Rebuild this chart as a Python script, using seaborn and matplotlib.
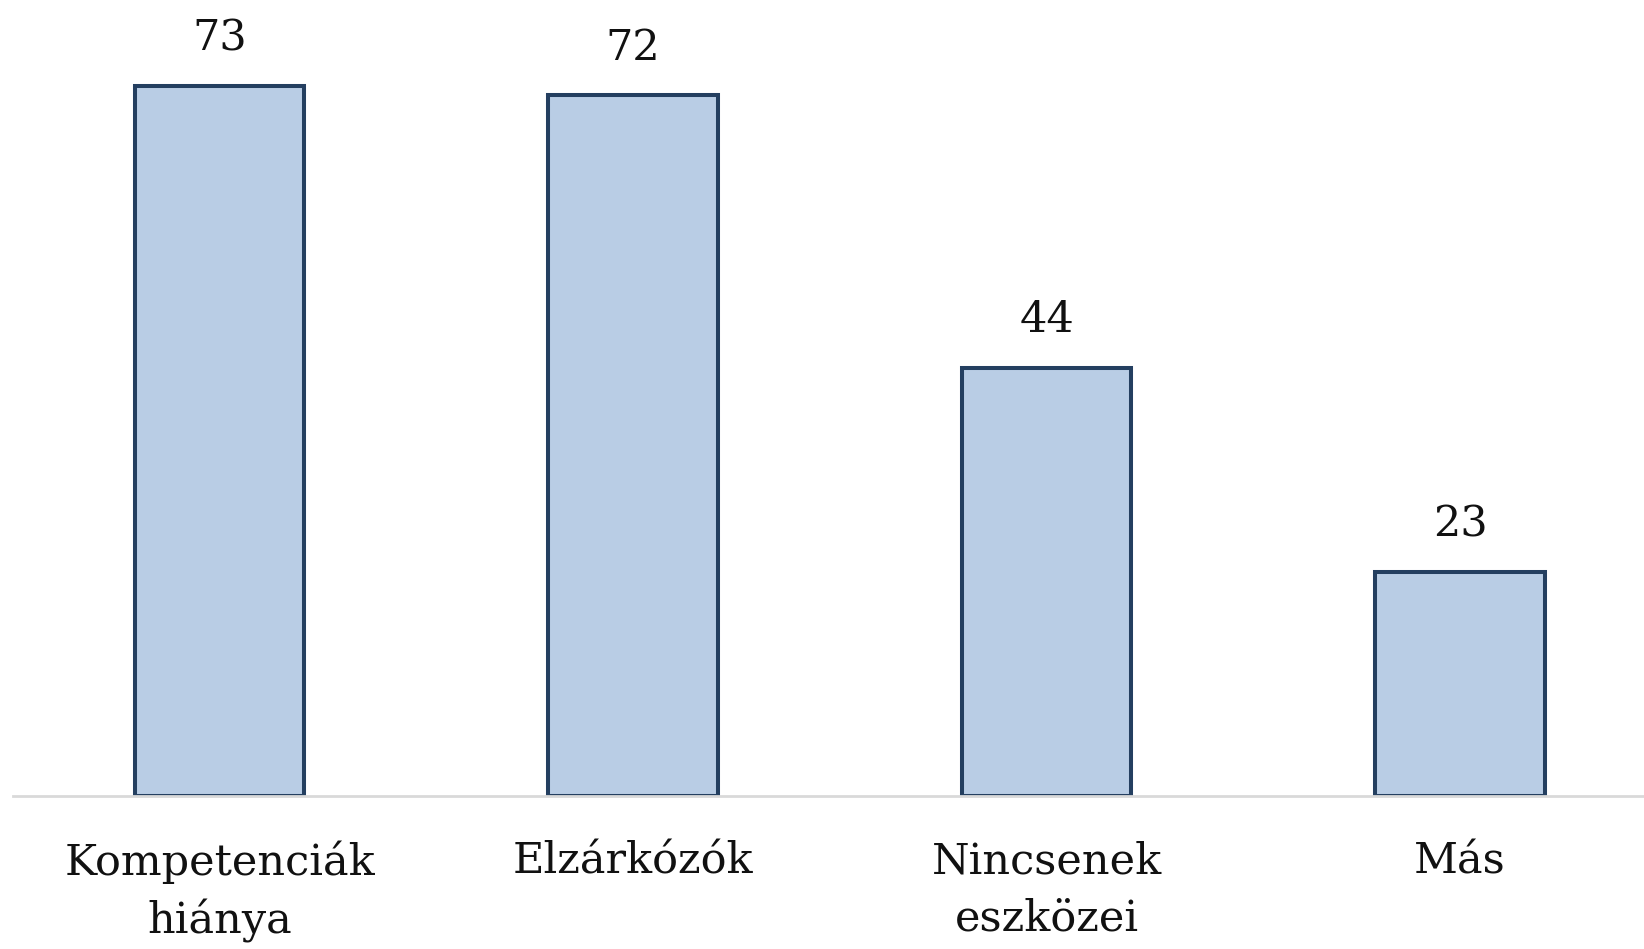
import seaborn as sns
import matplotlib.pyplot as plt
import pandas as pd

categories = ["Kompetenciák\nhiánya", "Elzárkózók", "Nincsenek\neszközei", "Más"]
values = [73, 72, 44, 23]

df = pd.DataFrame({"cat": categories, "val": values})

sns.set_theme(style="white")
plt.rcParams['font.family'] = ['DejaVu Serif']

fig = plt.figure(figsize=(16.44, 9.49), dpi=100)
ax = fig.add_axes([0.0079, 0.1612, 0.9921, 0.8388])

sns.barplot(data=df, x="cat", y="val", color="#B9CDE5", saturation=1,
            edgecolor="#243F60", linewidth=2.9, width=0.41, ax=ax)

ax.bar_label(ax.containers[0], labels=[str(v) for v in values], padding=19,
             fontsize=31, color="#111111")

ax.set_xlim(-0.5, 3.445)
ax.set_ylim(0, 81.8)
ax.set_xlabel("")
ax.set_ylabel("")
ax.set_yticks([])
ax.tick_params(axis="x", length=0, pad=32, labelsize=31, labelcolor="#111111")
for lbl in ax.get_xticklabels():
    lbl.set_linespacing(1.45)
for s in ["top", "right", "left"]:
    ax.spines[s].set_visible(False)
ax.spines["bottom"].set_color("#D9D9D9")
ax.spines["bottom"].set_linewidth(2)

fig.savefig("out.png", dpi=100)
